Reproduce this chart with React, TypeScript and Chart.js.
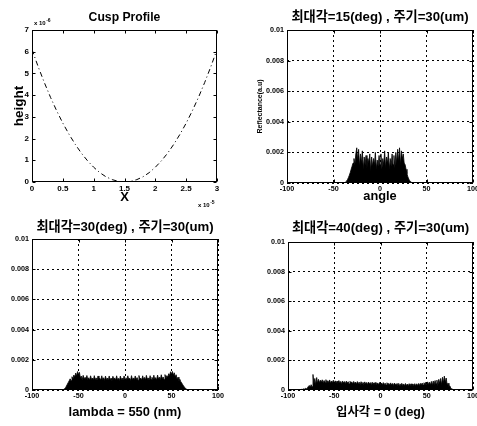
import React, { useEffect, useRef } from 'react';
import { Chart, registerables } from 'chart.js';

Chart.register(...registerables);

const W = 477;
const H = 426;

// ---------- Cusp profile (x in units of 1e-5, height in units of 1e-6) ----------
const cuspX = [0, 0.1, 0.2, 0.3, 0.4, 0.5, 0.6, 0.7, 0.8, 0.9, 1.0, 1.1, 1.2, 1.3, 1.4, 1.5,
  1.6, 1.7, 1.8, 1.9, 2.0, 2.1, 2.2, 2.3, 2.4, 2.5, 2.6, 2.7, 2.8, 2.9, 3.0];
const cuspHeight = [6.1, 5.31, 4.58, 3.9, 3.28, 2.71, 2.2, 1.74, 1.33, 0.98, 0.68, 0.43, 0.24, 0.11, 0.03, 0.0,
  0.03, 0.11, 0.24, 0.43, 0.68, 0.98, 1.33, 1.74, 2.2, 2.71, 3.28, 3.9, 4.58, 5.31, 6.1];
const cuspXTicks = [0, 0.5, 1, 1.5, 2, 2.5, 3];
const cuspXTickLabels = ['0', '0.5', '1', '1.5', '2', '2.5', '3'];
const cuspYTicks = [0, 1, 2, 3, 4, 5, 6, 7];
const cuspYTickLabels = ['0', '1', '2', '3', '4', '5', '6', '7'];

// ---------- Reflectance panels ----------
const angleTicks = [-100, -50, 0, 50, 100];
const angleTickLabels = ['-100', '-50', '0', '50', '100'];
const reflTicks = [0, 0.002, 0.004, 0.006, 0.008, 0.01];
const reflTickLabels = ['0', '0.002', '0.004', '0.006', '0.008', '0.01'];
const angleStep = 1;

// max angle 15 deg, samples from -40 deg
const refl15Start = -40;
const refl15 = [
  0.00001, 0.00002, 0.00003, 0.00006, 0.00012, 0.00022, 0.00035, 0.0005, 0.00068, 0.0009,
  0.0011, 0.0013, 0.0016, 0.0012, 0.0019, 0.0023, 0.0015, 0.0022, 0.0011, 0.0019,
  0.0013, 0.0021, 0.0009, 0.0017, 0.0012, 0.0018, 0.001, 0.0016, 0.0013, 0.0019,
  0.0008, 0.0017, 0.0011, 0.0016, 0.0012, 0.002, 0.0009, 0.0015, 0.0011, 0.0018,
  0.0012, 0.0019, 0.0009, 0.0016, 0.0012, 0.0021, 0.001, 0.0017, 0.0013, 0.002,
  0.0009, 0.0016, 0.0011, 0.0019, 0.0012, 0.0018, 0.001, 0.002, 0.0013, 0.0022,
  0.0014, 0.0023, 0.0012, 0.0021, 0.0016, 0.0019, 0.0013, 0.0012, 0.0009, 0.0006,
  0.0004, 0.00025, 0.00015, 0.00008, 0.00004, 0.00002, 0.00001,
];

// max angle 30 deg, samples from -68 deg
const refl30Start = -68;
const refl30 = [
  0.00001, 0.00002, 0.00004, 0.00008, 0.00015, 0.00026, 0.00038, 0.0005, 0.00061, 0.00074,
  0.00062, 0.00088, 0.00071, 0.00099, 0.00084, 0.00112, 0.00093, 0.00122, 0.00103, 0.00117,
  0.00081, 0.00092, 0.00067, 0.00097, 0.00073, 0.00083, 0.00066, 0.00096, 0.0007, 0.00081,
  0.00065, 0.00094, 0.00071, 0.00079, 0.00066, 0.00095, 0.00069, 0.0008, 0.00064, 0.00093,
  0.00072, 0.00078, 0.00065, 0.00094, 0.00068, 0.00081, 0.00063, 0.00092, 0.0007, 0.00079,
  0.00064, 0.00093, 0.00069, 0.00078, 0.00062, 0.00091, 0.00071, 0.0008, 0.00065, 0.00094,
  0.00068, 0.00077, 0.00063, 0.00092, 0.0007, 0.00079, 0.00064, 0.00093, 0.00069, 0.00081,
  0.00065, 0.00094, 0.00071, 0.00078, 0.00063, 0.00095, 0.00068, 0.0008, 0.00066, 0.00093,
  0.00069, 0.00082, 0.00064, 0.00096, 0.00071, 0.00079, 0.00065, 0.00094, 0.0007, 0.00083,
  0.00066, 0.00097, 0.00072, 0.0008, 0.00064, 0.00095, 0.00069, 0.00084, 0.00067, 0.00098,
  0.00071, 0.00082, 0.00065, 0.00099, 0.00073, 0.00085, 0.00068, 0.00101, 0.00074, 0.00086,
  0.00069, 0.00102, 0.00078, 0.00095, 0.00084, 0.00108, 0.00096, 0.00121, 0.00105, 0.00123,
  0.00098, 0.00114, 0.00086, 0.00101, 0.00072, 0.00085, 0.00062, 0.00071, 0.00055, 0.00046,
  0.00036, 0.00027, 0.00018, 0.00011, 0.00006, 0.00003, 0.00001,
];

// max angle 40 deg, samples from -88 deg
const refl40Start = -88;
const refl40 = [
  0.00001, 0.00002, 0.00003, 0.00005, 0.00004, 0.00008, 0.00006, 0.00011, 0.00009, 0.00014,
  0.00024, 0.00031, 0.00018, 0.00036, 0.00022, 0.00105, 0.00041, 0.00078, 0.00035, 0.00084,
  0.00046, 0.00072, 0.00049, 0.00066, 0.00052, 0.00069, 0.00048, 0.00064, 0.00053, 0.0007,
  0.00047, 0.00063, 0.00051, 0.00068, 0.00046, 0.00061, 0.0005, 0.00066, 0.00045, 0.00062,
  0.00049, 0.0006, 0.00044, 0.00064, 0.00048, 0.00058, 0.00043, 0.00061, 0.00047, 0.00057,
  0.00042, 0.0006, 0.00046, 0.00056, 0.00041, 0.00059, 0.00045, 0.00055, 0.0004, 0.00058,
  0.00044, 0.00054, 0.00039, 0.00057, 0.00043, 0.00053, 0.00038, 0.00056, 0.00042, 0.00052,
  0.00038, 0.00055, 0.00041, 0.00051, 0.00037, 0.00054, 0.0004, 0.0005, 0.00036, 0.00053,
  0.00039, 0.00049, 0.00035, 0.00052, 0.00038, 0.00048, 0.00035, 0.00051, 0.00037, 0.00047,
  0.00034, 0.0005, 0.00036, 0.00046, 0.00033, 0.00049, 0.00035, 0.00045, 0.00032, 0.00048,
  0.00034, 0.00044, 0.00031, 0.00047, 0.00033, 0.00043, 0.00031, 0.00046, 0.00032, 0.00042,
  0.0003, 0.00045, 0.00031, 0.00041, 0.00029, 0.00044, 0.0003, 0.0004, 0.00029, 0.00043,
  0.0003, 0.00042, 0.00028, 0.00041, 0.00031, 0.00043, 0.00029, 0.00042, 0.0003, 0.00044,
  0.00031, 0.00045, 0.00032, 0.00047, 0.00033, 0.00049, 0.00034, 0.00052, 0.00036, 0.00055,
  0.00037, 0.00053, 0.00035, 0.00058, 0.00032, 0.00061, 0.00038, 0.00064, 0.00042, 0.00067,
  0.00031, 0.00072, 0.00045, 0.00078, 0.00036, 0.00086, 0.00049, 0.00094, 0.00052, 0.00081,
  0.00038, 0.00046, 0.00022, 0.00028, 0.00012, 0.00008, 0.00005, 0.00003, 0.00002, 0.00002,
  0.00001, 0.00001, 0.00001,
];

const LAT_FONT = '"Liberation Sans", Arial, sans-serif';
const KR_FONT = '"Liberation Sans", "Noto Sans CJK KR", sans-serif';
const TICK_FONT = '"Liberation Sans", Arial, sans-serif';
const LH = 1.2;

type Area = { l: number; t: number; r: number; b: number };
type Sup = { text: string; sup: string; x: number; y: number };
type Panel = {
  area: Area;
  title: string; titleSize: number; titleY: number; titleFont: string;
  xTitle: string; xTitleSize: number; xTitleY: number; xTitleFont: string;
  yTitle?: string; yTitleSize?: number; yTitleX?: number;
  yAxisW: number; xAxisH: number; tickSize: number;
  xMin: number; xMax: number; xTicks: number[]; xTickLabels: string[];
  yMin: number; yMax: number; yTicks: number[]; yTickLabels: string[];
  grid: boolean;
  points: { x: number; y: number }[];
  kind: 'line' | 'fill';
  sups?: Sup[];
};

const toPoints = (xs: number[], ys: number[]) => ys.map((y, i) => ({ x: xs[i], y }));
const toSampled = (start: number, ys: number[]) => ys.map((y, i) => ({ x: start + i * angleStep, y }));

const panels: Panel[] = [
  {
    area: { l: 32, t: 30, r: 217, b: 182 },
    title: 'Cusp Profile', titleSize: 12.2, titleY: 18, titleFont: LAT_FONT,
    xTitle: 'X', xTitleSize: 13, xTitleY: 197, xTitleFont: LAT_FONT,
    yTitle: 'height', yTitleSize: 13.5, yTitleX: 19,
    yAxisW: 32, xAxisH: 24, tickSize: 8,
    xMin: 0, xMax: 3, xTicks: cuspXTicks, xTickLabels: cuspXTickLabels,
    yMin: 0, yMax: 7, yTicks: cuspYTicks, yTickLabels: cuspYTickLabels,
    grid: false,
    points: toPoints(cuspX, cuspHeight),
    kind: 'line',
    sups: [
      { text: 'x 10', sup: '-6', x: 34, y: 25 },
      { text: 'x 10', sup: '-5', x: 198, y: 207 },
    ],
  },
  {
    area: { l: 287, t: 30, r: 473, b: 183 },
    title: '최대각=15(deg) , 주기=30(um)', titleSize: 13.2, titleY: 17, titleFont: KR_FONT,
    xTitle: 'angle', xTitleSize: 12.8, xTitleY: 196, xTitleFont: LAT_FONT,
    yTitle: 'Reflectance(a.u)', yTitleSize: 7, yTitleX: 260,
    yAxisW: 40, xAxisH: 24, tickSize: 7.2,
    xMin: -100, xMax: 100, xTicks: angleTicks, xTickLabels: angleTickLabels,
    yMin: 0, yMax: 0.01, yTicks: reflTicks, yTickLabels: reflTickLabels,
    grid: true,
    points: toSampled(refl15Start, refl15),
    kind: 'fill',
  },
  {
    area: { l: 32, t: 239, r: 218, b: 390 },
    title: '최대각=30(deg) , 주기=30(um)', titleSize: 13.2, titleY: 227, titleFont: KR_FONT,
    xTitle: 'lambda = 550 (nm)', xTitleSize: 12.9, xTitleY: 412, xTitleFont: LAT_FONT,
    yAxisW: 30, xAxisH: 32, tickSize: 7.2,
    xMin: -100, xMax: 100, xTicks: angleTicks, xTickLabels: angleTickLabels,
    yMin: 0, yMax: 0.01, yTicks: reflTicks, yTickLabels: reflTickLabels,
    grid: true,
    points: toSampled(refl30Start, refl30),
    kind: 'fill',
  },
  {
    area: { l: 288, t: 242, r: 473, b: 390 },
    title: '최대각=40(deg) , 주기=30(um)', titleSize: 13.2, titleY: 228, titleFont: KR_FONT,
    xTitle: '입사각 = 0 (deg)', xTitleSize: 12.4, xTitleY: 413, xTitleFont: KR_FONT,
    yAxisW: 30, xAxisH: 32, tickSize: 7.2,
    xMin: -100, xMax: 100, xTicks: angleTicks, xTickLabels: angleTickLabels,
    yMin: 0, yMax: 0.01, yTicks: reflTicks, yTickLabels: reflTickLabels,
    grid: true,
    points: toSampled(refl40Start, refl40),
    kind: 'fill',
  },
];

function framePlugin(p: Panel) {
  return {
    id: 'matlabFrame',
    afterDatasetsDraw(chart: any) {
      const { ctx, chartArea: a, scales } = chart;
      ctx.save();
      ctx.setLineDash([]);
      ctx.strokeStyle = '#000';
      ctx.lineWidth = 1;
      const L = Math.round(a.left) + 0.5;
      const T = Math.round(a.top) + 0.5;
      const R = Math.round(a.right) - 0.5;
      const B = Math.round(a.bottom) - 0.5;
      ctx.strokeRect(L, T, R - L, B - T);
      const tl = 3;
      ctx.beginPath();
      p.xTicks.forEach((v) => {
        const px = Math.round(scales.x.getPixelForValue(v)) + 0.5;
        ctx.moveTo(px, B); ctx.lineTo(px, B - tl);
        ctx.moveTo(px, T); ctx.lineTo(px, T + tl);
      });
      p.yTicks.forEach((v) => {
        const py = Math.round(scales.y.getPixelForValue(v)) + 0.5;
        ctx.moveTo(L, py); ctx.lineTo(L + tl, py);
        ctx.moveTo(R, py); ctx.lineTo(R - tl, py);
      });
      ctx.stroke();
      ctx.restore();
    },
    afterDraw(chart: any) {
      if (!p.sups) return;
      const { ctx } = chart;
      ctx.save();
      ctx.fillStyle = '#000';
      ctx.textBaseline = 'alphabetic';
      ctx.textAlign = 'left';
      p.sups.forEach((s) => {
        ctx.font = `bold 6px ${LAT_FONT}`;
        ctx.fillText(s.text, s.x, s.y);
        const w = ctx.measureText(s.text).width;
        ctx.font = `bold 5px ${LAT_FONT}`;
        ctx.fillText(s.sup, s.x + w + 0.5, s.y - 3);
      });
      ctx.restore();
    },
  };
}

function buildConfig(p: Panel): any {
  const { l, t, r, b } = p.area;
  const titleLH = p.titleSize * LH;
  const xLH = p.xTitleSize * LH;
  const yLH = (p.yTitleSize || 7) * LH;
  const tickFont = { family: TICK_FONT, size: p.tickSize, weight: 'bold' as const, lineHeight: LH };
  const gridCfg = p.grid
    ? { display: true, color: '#000', lineWidth: 1, drawTicks: false, drawOnChartArea: true }
    : { display: false, drawTicks: false };
  const dataset = p.kind === 'line'
    ? {
      data: p.points, borderColor: '#000', borderWidth: 1, borderDash: [5, 3, 1, 3],
      pointRadius: 0, fill: false, tension: 0,
    }
    : {
      data: p.points, borderColor: '#000', backgroundColor: '#000', borderWidth: 0.8,
      pointRadius: 0, fill: 'origin', tension: 0,
    };
  return {
    type: 'line',
    data: { datasets: [dataset] },
    options: {
      animation: false,
      responsive: false,
      devicePixelRatio: 1,
      events: [],
      layout: {
        padding: {
          left: l - p.yAxisW,
          top: p.titleY - titleLH / 2,
          right: W - r,
          bottom: H - (b + p.xAxisH),
        },
      },
      plugins: {
        legend: { display: false },
        tooltip: { enabled: false },
        title: {
          display: true,
          text: p.title,
          fullSize: false,
          color: '#000',
          font: { family: p.titleFont, size: p.titleSize, weight: 'bold', lineHeight: LH },
          padding: { top: 0, bottom: t - p.titleY - titleLH / 2 },
        },
      },
      scales: {
        x: {
          type: 'linear',
          min: p.xMin,
          max: p.xMax,
          afterBuildTicks: (s: any) => { s.ticks = p.xTicks.map((v) => ({ value: v })); },
          afterFit: (s: any) => { s.height = p.xAxisH; s.paddingLeft = 0; s.paddingRight = 0; },
          ticks: {
            autoSkip: false, maxRotation: 0, minRotation: 0, padding: 2,
            color: '#000', font: tickFont,
            callback: (v: number) => p.xTickLabels[p.xTicks.indexOf(v)] ?? '',
          },
          grid: gridCfg,
          border: { display: false, dash: [2, 3] },
          title: {
            display: true, text: p.xTitle, color: '#000',
            font: { family: p.xTitleFont, size: p.xTitleSize, weight: 'bold', lineHeight: LH },
            padding: { top: 0, bottom: (b + p.xAxisH) - p.xTitleY - xLH / 2 },
          },
        },
        y: {
          type: 'linear',
          min: p.yMin,
          max: p.yMax,
          afterBuildTicks: (s: any) => { s.ticks = p.yTicks.map((v) => ({ value: v })); },
          afterFit: (s: any) => { s.width = p.yAxisW; s.paddingTop = 0; s.paddingBottom = 0; },
          ticks: {
            autoSkip: false, padding: 3, color: '#000', font: tickFont,
            callback: (v: number) => p.yTickLabels[p.yTicks.indexOf(v)] ?? '',
          },
          grid: gridCfg,
          border: { display: false, dash: [2, 3] },
          title: p.yTitle
            ? {
              display: true, text: p.yTitle, color: '#000',
              font: { family: LAT_FONT, size: p.yTitleSize, weight: 'bold', lineHeight: LH },
              padding: { top: (p.yTitleX || 0) - (l - p.yAxisW) - yLH / 2, bottom: 0 },
            }
            : { display: false },
        },
      },
    },
    plugins: [framePlugin(p)],
  };
}

function PanelCanvas({ p }: { p: Panel }) {
  const ref = useRef<HTMLCanvasElement | null>(null);
  useEffect(() => {
    if (!ref.current) return;
    const chart = new Chart(ref.current, buildConfig(p));
    return () => chart.destroy();
  }, [p]);
  return (
    <canvas
      ref={ref}
      width={W}
      height={H}
      style={{ position: 'absolute', left: 0, top: 0, width: W, height: H }}
    />
  );
}

export default function App() {
  return (
    <div style={{ position: 'fixed', left: 0, top: 0, width: W, height: H, background: '#fff', overflow: 'hidden' }}>
      {panels.map((p, i) => <PanelCanvas key={i} p={p} />)}
    </div>
  );
}
